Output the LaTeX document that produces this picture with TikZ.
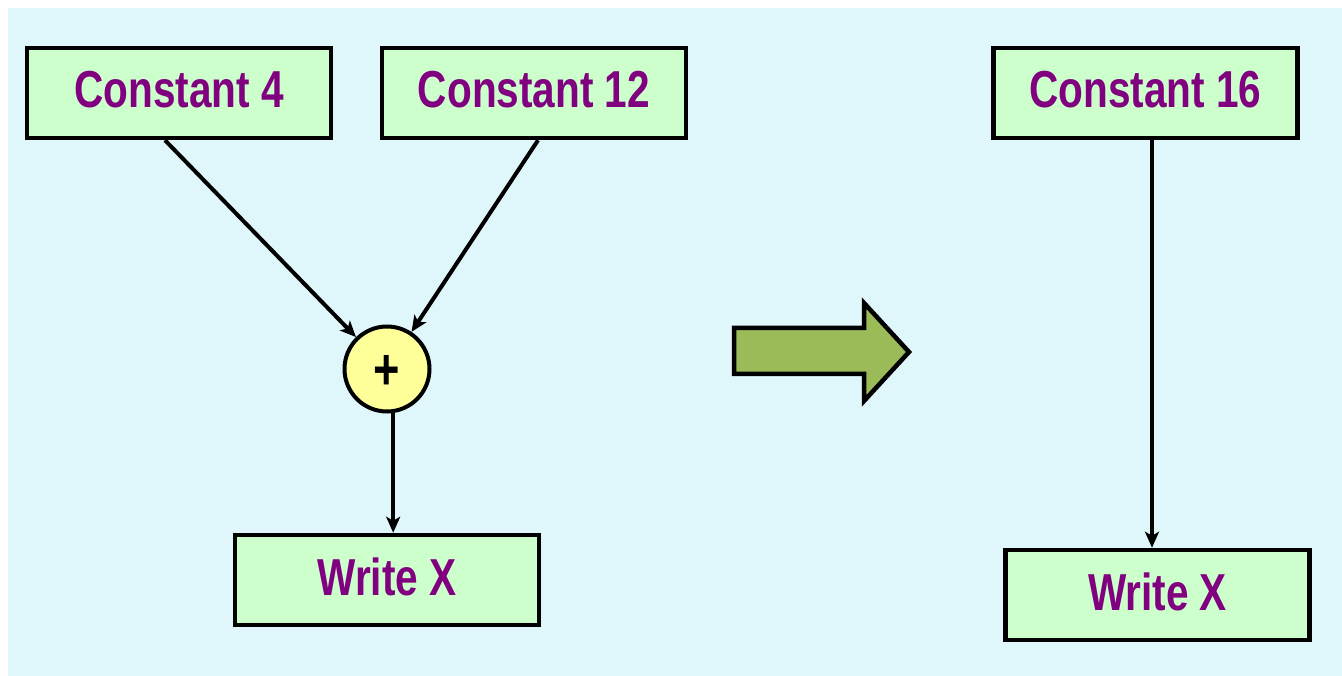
\documentclass[tikz,border=0pt]{standalone}
\usepackage{fontspec}
\newfontfamily\lbl[FakeStretch=0.78,BoldFont={Liberation Sans Bold}]{Liberation Sans}
\usetikzlibrary{arrows.meta}
\definecolor{bgcyan}{HTML}{DFF7FB}
\definecolor{boxgreen}{HTML}{CCFFCC}
\definecolor{txtpurple}{HTML}{800080}
\definecolor{plusyellow}{HTML}{FFFF99}
\definecolor{arrowgreen}{HTML}{9BBB59}
\tikzset{
  opbox/.style={draw=black, line width=4.5pt, fill=boxgreen, minimum width=304pt, minimum height=90pt,
    inner sep=0pt, text=txtpurple, font=\lbl\bfseries\fontsize{52}{60}\selectfont,
    text height=38pt, text depth=8pt},
  opcircle/.style={draw=black, line width=4pt, fill=plusyellow, circle, minimum size=85pt, inner sep=0pt,
    font=\lbl\bfseries\fontsize{58}{66}\selectfont},
  conn/.style={line width=4pt, -{Stealth[length=16pt,width=14pt,inset=4pt]}},
  bigarrow/.style={draw=black, line width=4.5pt, fill=arrowgreen, miter limit=10}
}
\begin{document}
\begin{tikzpicture}[x=1pt,y=-1pt]
\useasboundingbox (0,0) rectangle (1342,676);
\fill[white] (0,0) rectangle (1342,676);
\fill[bgcyan] (8,8) rectangle (1342,676);

\node[opbox] (c4) at (179,93) {Constant 4};
\node[opbox] (c12) at (534,93) {Constant 12};
\node[opbox] (c16) at (1145.5,93) {Constant 16};
\node[opcircle] (plus) at (387,369) {};
\node[font=\lbl\bfseries\fontsize{58}{66}\selectfont, inner sep=0pt] (plussign) at (387,372) {+};
\node[opbox] (wL) at (387,580) {Write X};
\node[opbox] (wR) at (1157.5,595) {Write X};

\draw[conn] ([xshift=-14pt]c4.south) -- (plus);
\draw[conn] ([xshift=4pt]c12.south) -- (plus);
\path (plus.-82) coordinate (p1);
\draw[conn] (p1) -- (p1 |- wL.north);
\path ([xshift=6.5pt]c16.south) coordinate (r1);
\draw[conn] (r1) -- (r1 |- wR.north);

\draw[bigarrow] (734,328) -- (864,328) -- (864,303) -- (909,352) -- (864,401) -- (864,374) -- (734,374) -- cycle;
\end{tikzpicture}
\end{document}
